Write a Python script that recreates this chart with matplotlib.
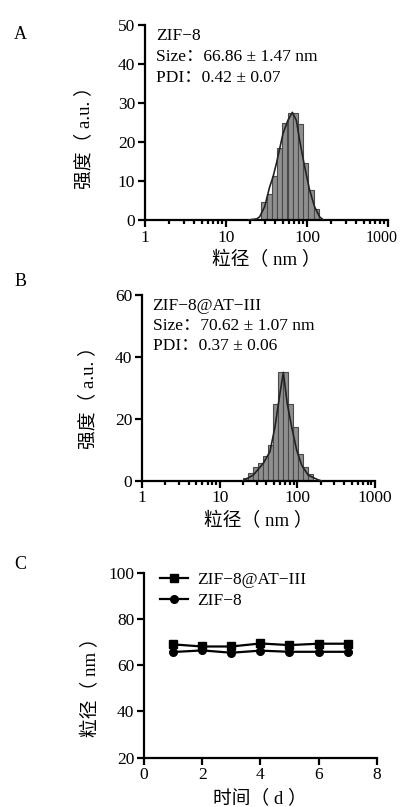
import numpy as np
import matplotlib
matplotlib.use("Agg")
import matplotlib.pyplot as plt
import matplotlib.transforms as mtransforms
from matplotlib.ticker import LogLocator, NullFormatter, FixedLocator

plt.rcParams['font.family'] = ['Liberation Serif', 'Noto Sans CJK SC']
plt.rcParams['axes.unicode_minus'] = True

# ---- Panel A data (ZIF-8) ----
a_bin_centers = [29.4, 34.2, 39.6, 46.0, 53.3, 61.9, 71.8, 83.4, 96.6, 112.2, 130.0]
a_heights = [4.7, 6.6, 11.3, 18.5, 24.8, 27.5, 27.5, 24.6, 14.7, 7.7, 2.7]
a_curve_x = [19, 24, 26, 30, 34.6, 38, 41.9, 50.6, 58.2, 66, 74, 81, 93.4, 107.6, 124, 143, 160]
a_curve_y = [0, 0.3, 0.8, 3.4, 8.5, 11, 14.5, 22.2, 25.6, 27.6, 25.5, 20.5, 13.7, 7.7, 3.4, 0.8, 0]
a_text = ["ZIF−8", "Size：66.86 ± 1.47 nm", "PDI：0.42 ± 0.07"]

# ---- Panel B data (ZIF-8@AT-III) ----
b_bin_centers = [21.7, 25.1, 29.2, 33.8, 39.3, 45.5, 52.8, 61.2, 71.0, 82.4, 95.5, 110.9, 128.5, 148.9]
b_heights = [1.0, 2.6, 4.5, 5.8, 8.0, 11.5, 24.7, 35.0, 35.0, 24.7, 17.3, 8.5, 4.5, 2.1]
b_curve_x = [20, 27, 36.4, 44.4, 51.5, 59.7, 66, 74, 84.4, 98, 113.6, 138, 177, 200]
b_curve_y = [0, 1.8, 5.6, 9.4, 17.4, 28.2, 35.0, 25.0, 17.4, 9.9, 5.0, 1.8, 0.5, 0]
b_text = ["ZIF−8@AT−III", "Size：70.62 ± 1.07 nm", "PDI：0.37 ± 0.06"]

# ---- Panel C data ----
days = [1, 2, 3, 4, 5, 6, 7]
size_at3 = [69.0, 68.1, 68.1, 69.4, 68.7, 69.3, 69.3]
size_zif8 = [65.7, 66.4, 65.4, 66.3, 65.8, 65.8, 65.8]
labels_c = ["ZIF−8@AT−III", "ZIF−8"]

LW = 1.6
TICK_FS = 12.5
LAB_FS = 13.5
ANN_FS = 12.5

fig = plt.figure(figsize=(4.03, 8.07), dpi=100)

def style_axes(ax):
    for s in ['top', 'right']:
        ax.spines[s].set_visible(False)
    for s in ['left', 'bottom']:
        ax.spines[s].set_linewidth(LW)
    ax.tick_params(axis='both', which='major', direction='out', length=5, width=LW,
                   labelsize=TICK_FS, pad=2)
    ax.tick_params(axis='both', which='minor', direction='out', length=3, width=LW)

def dist_panel(ax, centers, heights, cx, cy, ymax, ystep, texts):
    c = np.array(centers, dtype=float)
    lc = np.log10(c)
    w = np.mean(np.diff(lc))
    left = 10 ** (lc - w / 2)
    right = 10 ** (lc + w / 2)
    ax.bar(left, heights, width=right - left, align='edge', color='#8f8f8f',
           edgecolor='#4a4a4a', linewidth=0.8, zorder=2)
    ax.plot(cx, cy, color='#222222', lw=1.2, zorder=3)
    ax.set_xscale('log')
    ax.set_xlim(1, 1000)
    ax.set_ylim(0, ymax)
    ax.set_yticks(np.arange(0, ymax + 1, ystep))
    ax.xaxis.set_major_locator(FixedLocator([1, 10, 100, 1000]))
    ax.set_xticklabels(['1', '10', '100', '1000'])
    ax.xaxis.set_minor_locator(LogLocator(base=10, subs=np.arange(2, 10)))
    ax.xaxis.set_minor_formatter(NullFormatter())
    style_axes(ax)
    ax.set_xlabel('粒径（ nm ）', fontsize=LAB_FS, labelpad=4)
    ax.set_ylabel('强度（ a.u. ）', fontsize=LAB_FS)
    for i, t in enumerate(texts):
        ax.text(0.045, 0.985 - i * 0.108, t, transform=ax.transAxes, fontsize=ANN_FS,
                va='top', ha='left')

axA = fig.add_axes([0.3598, 0.7274, 0.603, 0.2416])
dist_panel(axA, a_bin_centers, a_heights, a_curve_x, a_curve_y, 50, 10, a_text)
axA.yaxis.set_label_coords(-0.214, 0.446)
# keep the "1000" label inside the figure
lastA = axA.get_xticklabels()[-1]
lastA.set_fontsize(11.5)
lastA.set_transform(lastA.get_transform() +
                    mtransforms.ScaledTranslation(-6 / 100, 0, fig.dpi_scale_trans))

axB = fig.add_axes([0.3524, 0.4043, 0.5782, 0.2301])
dist_panel(axB, b_bin_centers, b_heights, b_curve_x, b_curve_y, 60, 20, b_text)
axB.yaxis.set_label_coords(-0.193, 0.472)

axC = fig.add_axes([0.3573, 0.0611, 0.5774, 0.2292])
axC.plot(days, size_at3, color='black', lw=LW, marker='s', markersize=5.5, label=labels_c[0])
axC.plot(days, size_zif8, color='black', lw=LW, marker='o', markersize=5.5, label=labels_c[1])
axC.set_xlim(0, 8)
axC.set_ylim(20, 100)
axC.set_xticks([0, 2, 4, 6, 8])
axC.set_yticks([20, 40, 60, 80, 100])
style_axes(axC)
axC.set_xlabel('时间（ d ）', fontsize=LAB_FS, labelpad=4)
axC.set_ylabel('粒径（ nm ）', fontsize=LAB_FS)
axC.yaxis.set_label_coords(-0.189, 0.404)
axC.legend(loc='upper left', bbox_to_anchor=(0.04, 1.04), frameon=False, fontsize=ANN_FS,
           handlelength=1.6, handletextpad=0.5, labelspacing=0.25, borderaxespad=0)

for lab, y in [('A', 0.957), ('B', 0.651), ('C', 0.301)]:
    fig.text(0.035, y, lab, fontsize=13, ha='left', va='center')

fig.savefig('out.png', dpi=100)
